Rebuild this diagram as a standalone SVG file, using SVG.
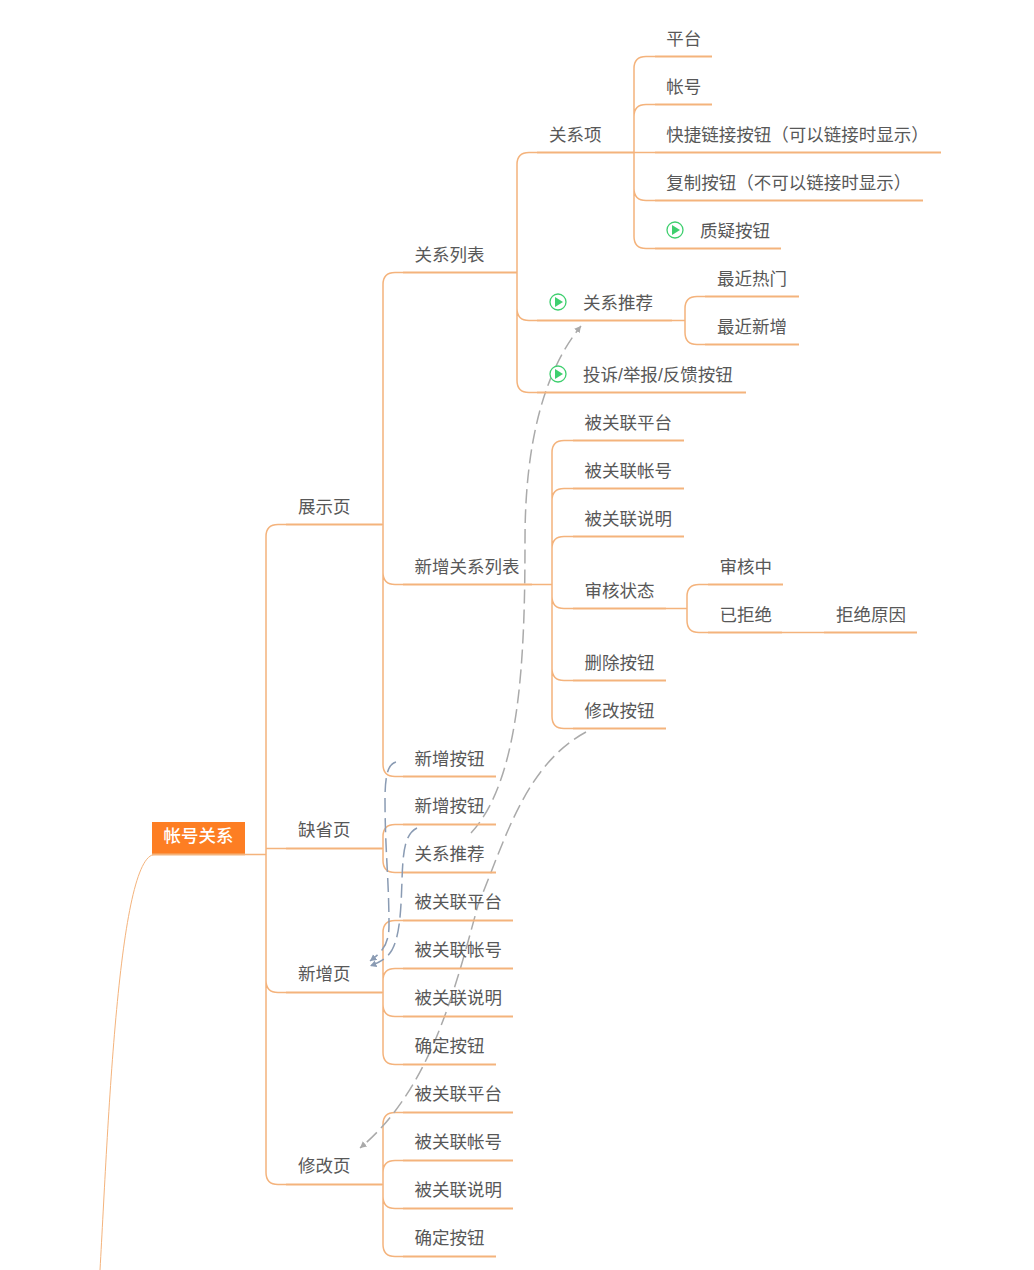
<svg xmlns="http://www.w3.org/2000/svg" width="1034" height="1270" viewBox="0 0 1034 1270">
<style>
text{font-family:"Noto Sans CJK SC","Liberation Sans",sans-serif;font-size:17.5px;fill:#585858}
.c{fill:none;stroke:#f4b37c;stroke-width:1.5;transform:translateY(.5px)}
.u{fill:none;stroke:#f4b37c;stroke-width:2;transform:translateY(.5px)}
.t{fill:none;stroke:#f4b37c;stroke-width:1}
.dg{fill:none;stroke:#aaa;stroke-width:1.5;stroke-dasharray:14 6;marker-end:url(#ag)}
.db{fill:none;stroke:#8a9bb3;stroke-width:1.5;stroke-dasharray:14 6;marker-end:url(#ab)}
.ic{fill:#fff;stroke:#3ecf6e;stroke-width:1.3}
.tr{fill:#3ecf6e}
.s{font-family:"Liberation Sans",sans-serif}
</style>
<defs>
<marker id="ag" markerUnits="userSpaceOnUse" markerWidth="8" markerHeight="8" refX="6.500" refY="3.500" orient="auto"><path d="M0 0L6.500 3.500L0 7Z" fill="#aaa"/></marker>
<marker id="ab" markerUnits="userSpaceOnUse" markerWidth="8" markerHeight="8" refX="6.500" refY="3.500" orient="auto"><path d="M0 0L6.500 3.500L0 7Z" fill="#8a9bb3"/></marker>
<g id="play"><circle class="ic" r="8"/><path class="tr" d="M-3 -5L5 0L-3 5Z"/></g>
</defs>
<g id="connectors">
<path class="t" d="M100 1270C108 1130 118 854 155 854.500"/>
<path class="c" d="M245 854H266M266 854V536Q266 524 278 524H286M266 854V848H286M266 854V980Q266 992 278 992H286M266 854V1172Q266 1184 278 1184H286"/>
<path class="c" d="M382 524H383V284Q383 272 395 272H403M383 524V572Q383 584 395 584H403M383 524V764Q383 776 395 776H403"/>
<path class="c" d="M382 848H383V836Q383 824 395 824H403M383 848V860Q383 872 395 872H403"/>
<path class="c" d="M382 992H383V932Q383 920 395 920H403M383 992V980Q383 968 395 968H403M383 992V1004Q383 1016 395 1016H403M383 992V1052Q383 1064 395 1064H403"/>
<path class="c" d="M382 1184H383V1124Q383 1112 395 1112H403M383 1184V1172Q383 1160 395 1160H403M383 1184V1196Q383 1208 395 1208H403M383 1184V1244Q383 1256 395 1256H403"/>
<path class="c" d="M517 272V164Q517 152 529 152H537M517 272V308Q517 320 529 320H537M517 272V380Q517 392 529 392H537"/>
<path class="c" d="M634 152V68Q634 56 646 56H655M634 152V116Q634 104 646 104H655M634 152H655M634 152V188Q634 200 646 200H655M634 152V236Q634 248 646 248H655"/>
<path class="c" d="M672 320H685V308Q685 296 697 296H705M685 320V332Q685 344 697 344H705"/>
<path class="c" d="M532 584H552V452Q552 440 564 440H573M552 584V500Q552 488 564 488H573M552 584V548Q552 536 564 536H573M552 584V596Q552 608 564 608H573M552 584V668Q552 680 564 680H573M552 584V716Q552 728 564 728H573"/>
<path class="c" d="M666 608H687V596Q687 584 699 584H708M687 608V620Q687 632 699 632H708"/>
<path class="c" d="M782 632H824"/>
<path class="dg" d="M471 833C520 780 525 660 525 540C525 440 545 370 581 326"/>
<path class="dg" d="M586 732C525 765 505 840 478 905C455 990 430 1090 360 1148"/>
<path class="db" d="M396 762C388 764 385 775 385 800C385 850 389 880 389 925C389 945 382 952 370 961"/>
<path class="db" d="M417 828C405 834 403 850 402 880C401 910 400 935 392 950C386 960 378 963 370 966"/>
</g>
<g id="n-root"><rect x="152" y="822" width="93" height="32" fill="#fd7e23"/><path class="u" d="M152 854H245"/><text x="198.500" y="841.500" text-anchor="middle" font-weight="500" style="fill:#fff">帐号关系</text></g>
<g id="n-zhanshi"><text x="298" y="513">展示页</text><path class="u" d="M286 524H382"/></g>
<g id="n-queshe"><text x="298" y="836">缺省页</text><path class="u" d="M286 848H382"/></g>
<g id="n-xinzeng"><text x="298" y="980">新增页</text><path class="u" d="M286 992H382"/></g>
<g id="n-xiugai"><text x="298" y="1172">修改页</text><path class="u" d="M286 1184H382"/></g>
<g id="n-gxlb"><text x="414.500" y="261">关系列表</text><path class="u" d="M403 272H517"/></g>
<g id="n-xzgxlb"><text x="414.500" y="573">新增关系列表</text><path class="u" d="M403 584H532"/></g>
<g id="n-xzan1"><text x="414.500" y="764.500">新增按钮</text><path class="u" d="M403 776H496"/></g>
<g id="n-xzan2"><text x="414.500" y="812">新增按钮</text><path class="u" d="M403 824H496"/></g>
<g id="n-gxtj2"><text x="414.500" y="860">关系推荐</text><path class="u" d="M403 872H496"/></g>
<g id="n-a1"><text x="414.500" y="908">被关联平台</text><path class="u" d="M403 920H513"/></g>
<g id="n-a2"><text x="414.500" y="956">被关联帐号</text><path class="u" d="M403 968H513"/></g>
<g id="n-a3"><text x="414.500" y="1004">被关联说明</text><path class="u" d="M403 1016H513"/></g>
<g id="n-a4"><text x="414.500" y="1051.500">确定按钮</text><path class="u" d="M403 1064H496"/></g>
<g id="n-b1"><text x="414.500" y="1100">被关联平台</text><path class="u" d="M403 1112H513"/></g>
<g id="n-b2"><text x="414.500" y="1148">被关联帐号</text><path class="u" d="M403 1160H513"/></g>
<g id="n-b3"><text x="414.500" y="1196">被关联说明</text><path class="u" d="M403 1208H513"/></g>
<g id="n-b4"><text x="414.500" y="1243.500">确定按钮</text><path class="u" d="M403 1256H496"/></g>
<g id="n-gxx"><text x="549" y="141">关系项</text><path class="u" d="M537 152H634"/></g>
<g id="n-gxtj"><use href="#play" x="558" y="302"/><text x="583" y="309">关系推荐</text><path class="u" d="M537 320H672"/></g>
<g id="n-ts"><use href="#play" x="558" y="374"/><text x="583" y="381">投诉<tspan class="s">/</tspan>举报<tspan class="s">/</tspan>反馈按钮</text><path class="u" d="M537 392H746"/></g>
<g id="n-pt"><text x="666.300" y="45">平台</text><path class="u" d="M655 56H712"/></g>
<g id="n-zh"><text x="666.300" y="93">帐号</text><path class="u" d="M655 104H712"/></g>
<g id="n-kj"><text x="666.300" y="141">快捷链接按钮（可以链接时显示）</text><path class="u" d="M655 152H941"/></g>
<g id="n-fz"><text x="666.300" y="189">复制按钮（不可以链接时显示）</text><path class="u" d="M655 200H923"/></g>
<g id="n-zy"><use href="#play" x="675" y="230"/><text x="700" y="237">质疑按钮</text><path class="u" d="M655 248H781"/></g>
<g id="n-rm"><text x="717" y="285">最近热门</text><path class="u" d="M705 296H799"/></g>
<g id="n-xz"><text x="717" y="333">最近新增</text><path class="u" d="M705 344H799"/></g>
<g id="n-c1"><text x="584.500" y="429">被关联平台</text><path class="u" d="M573 440H684"/></g>
<g id="n-c2"><text x="584.500" y="477">被关联帐号</text><path class="u" d="M573 488H684"/></g>
<g id="n-c3"><text x="584.500" y="525">被关联说明</text><path class="u" d="M573 536H684"/></g>
<g id="n-shzt"><text x="584.500" y="597">审核状态</text><path class="u" d="M573 608H666"/></g>
<g id="n-sc"><text x="584.500" y="669">删除按钮</text><path class="u" d="M573 680H666"/></g>
<g id="n-xg"><text x="584.500" y="717">修改按钮</text><path class="u" d="M573 728H666"/></g>
<g id="n-shz"><text x="719.500" y="573">审核中</text><path class="u" d="M708 584H783"/></g>
<g id="n-yjj"><text x="719.500" y="621">已拒绝</text><path class="u" d="M708 632H782"/></g>
<g id="n-jjyy"><text x="836" y="621">拒绝原因</text><path class="u" d="M824 632H917"/></g>
</svg>
